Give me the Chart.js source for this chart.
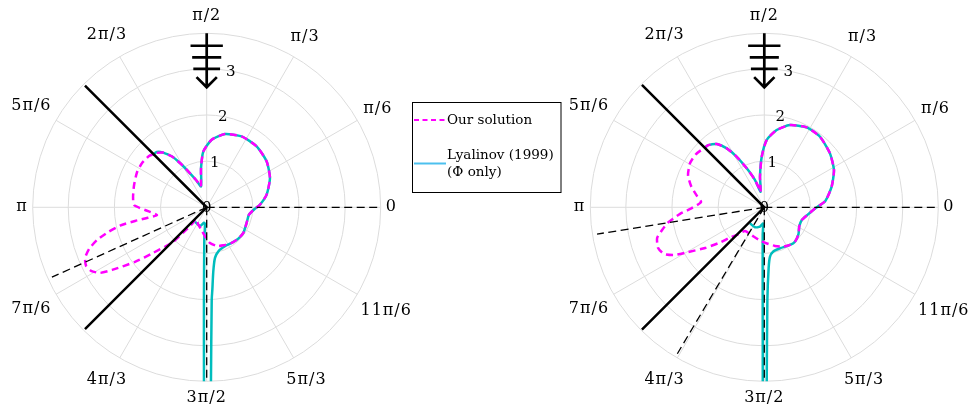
<!DOCTYPE html>
<html>
<head>
<meta charset="utf-8">
<script src="https://cdn.jsdelivr.net/npm/chart.js@4.4.1/dist/chart.umd.min.js"></script>
<style>
    html, body { margin: 0; padding: 0; background: #fff; }
    #wrap { position: relative; width: 974px; height: 413px; background: #fff; }
    #wrap canvas { position: absolute; left: 0; top: 0; }
</style>
</head>
<body>
<div id="wrap">
    <canvas id="left-chart" width="974" height="413"></canvas>
    <canvas id="right-chart" width="974" height="413"></canvas>
</div>
<script>
// Radial axis
const RMAX = 3.77;
const ringValues = [1, 2, 3];
const tickValues = [0, 1, 2, 3];
const tickLabels = ['0', '1', '2', '3'];
const angleDegs = [0, 30, 60, 90, 120, 150, 180, 210, 240, 270, 300, 330];
const angleLabels = ['0', 'π/6', 'π/3', 'π/2', '2π/3', '5π/6', 'π', '7π/6', '4π/3', '3π/2', '5π/3', '11π/6'];

// Left panel: our solution (theta in degrees, r)
const leftOursTheta = [105.2, 98.2, 93.4, 85.8, 76.0, 63.8, 50.7, 37.5, 24.8, 11.9, 2.8, 358.4, 350.1, 338.6,
    325.0, 315.3, 305.0, 293.6, 284.9, 275.2, 268.7, 258.8, 242.5, 227.5, 228.6, 227.9, 225.8, 220.4, 217.3,
    213.5, 211.6, 208.8, 205.9, 202.6, 199.5, 196.6, 194.1, 191.9, 190.8, 190.3, 188.8, 182.5, 178.2, 172.0,
    162.9, 153.1, 145.6, 138.4, 133.0, 128.6, 124.3, 121.1, 117.3, 111.4, 105.2];
const leftOursR = [0.47, 0.86, 1.213, 1.468, 1.635, 1.712, 1.707, 1.636, 1.51, 1.327, 1.155, 1.046, 0.93, 0.929,
    0.969, 0.964, 0.943, 0.898, 0.867, 0.776, 0.665, 0.523, 0.407, 0.343, 0.481, 0.604, 1.047, 1.526, 1.952,
    2.458, 2.713, 2.859, 2.905, 2.854, 2.703, 2.478, 2.202, 1.918, 1.58, 1.357, 1.089, 1.337, 1.575, 1.611,
    1.646, 1.691, 1.697, 1.671, 1.608, 1.517, 1.332, 1.12, 0.884, 0.635, 0.47];

// Left panel: Lyalinov (1999)
const leftLyaTheta = [136.3, 132.1, 128.6, 124.3, 121.1, 117.3, 111.4, 105.2, 98.2, 93.4, 85.8, 76.0, 63.8,
    50.7, 37.5, 24.8, 11.9, 2.8, 358.4, 350.1, 338.6, 325.0, 315.3, 305.0, 295.1, 285.8, 279.3, 275.9, 273.9,
    273.1, 271.4, 271.2, 269.3, 269.1, 268.3, 265.8, 264.2, 260.1, 250.3, 231.0];
const leftLyaR = [1.629, 1.614, 1.517, 1.332, 1.12, 0.884, 0.635, 0.47, 0.86, 1.213, 1.468, 1.635, 1.712,
    1.707, 1.636, 1.51, 1.327, 1.155, 1.046, 0.93, 0.929, 0.969, 0.964, 0.943, 0.932, 0.976, 1.112, 1.393, 1.794,
    2.009, 3.776, 4.5, 4.5, 3.775, 2.007, 0.71, 0.363, 0.338, 0.43, 0.402];

// Left panel: wedge faces and dashed rays
const leftSolidTheta = [135, 225];
const leftSolidR = [3.73, 3.73];
const leftDashTheta = [0, 204.3, 270];
const leftDashR = [3.77, 3.68, 3.77];

// Right panel: our solution
const rightOursTheta = [103.0, 98.0, 92.9, 88.0, 80.9, 72.7, 62.1, 51.7, 39.4, 28.1, 17.0, 6.0, 358.6, 350.0,
    341.0, 331.5, 321.5, 311.7, 304.3, 295.7, 285.5, 274.2, 262.6, 246.4, 230.8, 225.4, 221.4, 218.5, 214.5,
    210.4, 208.1, 205.0, 201.0, 196.0, 192.5, 189.0, 184.5, 180.5, 175.2, 170.5, 163.8, 157.1, 149.2, 142.0,
    134.7, 132.0, 126.9, 122.5, 118.6, 114.3, 108.8, 103.0];
const rightOursR = [0.347, 0.669, 1.097, 1.458, 1.695, 1.866, 1.96, 1.947, 1.841, 1.711, 1.526, 1.33, 1.1, 0.95,
    0.857, 0.862, 0.945, 0.998, 0.988, 0.947, 0.869, 0.786, 0.725, 0.666, 0.662, 0.842, 0.989, 1.225, 1.557,
    1.914, 2.191, 2.395, 2.464, 2.416, 2.268, 2.11, 1.831, 1.565, 1.375, 1.477, 1.652, 1.794, 1.872, 1.875,
    1.826, 1.813, 1.714, 1.514, 1.247, 0.926, 0.624, 0.347];

// Right panel: Lyalinov (1999)
const rightLyaTheta = [134.7, 132.0, 126.9, 122.5, 118.6, 114.3, 108.8, 103.0, 98.0, 92.9, 88.0, 80.9, 72.7,
    62.1, 51.7, 39.4, 28.1, 17.0, 6.0, 358.6, 350.0, 341.0, 331.5, 321.5, 311.7, 304.3, 291.0, 281.5, 276.6,
    274.1, 271.9, 270.8, 270.66, 269.55, 269.5, 269.0, 266.7, 265.4, 257.5, 245.1, 228.1];
const rightLyaR = [1.826, 1.813, 1.714, 1.514, 1.247, 0.926, 0.624, 0.347, 0.669, 1.097, 1.458, 1.695, 1.866,
    1.96, 1.947, 1.841, 1.711, 1.526, 1.33, 1.1, 0.95, 0.857, 0.862, 0.945, 0.998, 0.988, 0.95, 0.976, 1.076,
    1.317, 2.007, 3.775, 4.5, 4.5, 3.775, 2.006, 0.601, 0.352, 0.43, 0.477, 0.465];

const rightSolidTheta = [135, 225];
const rightSolidR = [3.75, 3.75];
const rightDashTheta = [0, 189.1, 239.3, 270];
const rightDashR = [3.77, 3.67, 3.69, 3.77];

const MAGENTA = '#ff00ff';
const TEAL = '#00bdbd';
const LEGEND_BLUE = '#4cc0ee';
const GRID = '#dcdcdc';
const DEG = Math.PI / 180;

function polarPoints(thetas, radii) {
    return thetas.map((t, i) => ({ x: radii[i] * Math.cos(t * DEG), y: radii[i] * Math.sin(t * DEG) }));
}

function buildDatasets(p) {
    const sets = [];
    // wedge faces (solid black, through the origin)
    sets.push({
        data: [polarPoints([p.solidTheta[0]], [p.solidR[0]])[0], { x: 0, y: 0 }, polarPoints([p.solidTheta[1]], [p.solidR[1]])[0]],
        borderColor: '#000', borderWidth: 2.5, tension: 0
    });
    p.dashTheta.forEach((t, i) => {
        sets.push({
            data: [{ x: 0, y: 0 }, polarPoints([t], [p.dashR[i]])[0]],
            borderColor: '#000', borderWidth: 1.3, borderDash: [8, 4.5], tension: 0
        });
    });
    sets.push({
        label: 'Our solution',
        data: polarPoints(p.oursTheta, p.oursR),
        borderColor: MAGENTA, borderWidth: 2.5, borderDash: [7, 4.5], tension: 0.2
    });
    sets.push({
        label: 'Lyalinov (1999)',
        data: polarPoints(p.lyaTheta, p.lyaR),
        borderColor: TEAL, borderWidth: 2.5, tension: 0.2
    });
    sets.forEach(s => {
        s.showLine = true;
        s.pointRadius = 0;
        s.fill = false;
    });
    return sets;
}

// polar grid, labels and incident-wave arrow, placed with the chart's own x/y scales
const polarGrid = {
    id: 'polarGrid',
    beforeDatasetsDraw(chart) {
        const ctx = chart.ctx;
        const xs = chart.scales.x;
        const ys = chart.scales.y;
        const cx = xs.getPixelForValue(0);
        const cy = ys.getPixelForValue(0);
        const unit = xs.getPixelForValue(1) - cx;
        const at = (deg, r) => [cx + r * unit * Math.cos(deg * DEG), cy - r * unit * Math.sin(deg * DEG)];

        ctx.save();
        ctx.strokeStyle = GRID;
        ctx.lineWidth = 1;
        ringValues.concat([RMAX]).forEach(r => {
            ctx.beginPath();
            ctx.arc(cx, cy, r * unit, 0, 2 * Math.PI);
            ctx.stroke();
        });
        angleDegs.forEach(deg => {
            const [x, y] = at(deg, RMAX);
            ctx.beginPath();
            ctx.moveTo(cx, cy);
            ctx.lineTo(x, y);
            ctx.stroke();
        });

        // angle labels
        ctx.fillStyle = '#000';
        ctx.font = '16px "DejaVu Serif"';
        ctx.letterSpacing = '1px';
        ctx.textAlign = 'center';
        ctx.textBaseline = 'middle';
        angleDegs.forEach((deg, i) => {
            const w = ctx.measureText(angleLabels[i]).width;
            const c = Math.abs(Math.cos(deg * DEG));
            const s = Math.abs(Math.sin(deg * DEG));
            const dist = RMAX * unit + 5 + (w / 2) * c + 12 * s;
            ctx.fillText(angleLabels[i], cx + dist * Math.cos(deg * DEG), cy - dist * Math.sin(deg * DEG));
        });

        // radial tick labels along 80 degrees
        ctx.letterSpacing = '0px';
        ctx.font = '15px "DejaVu Serif"';
        tickValues.forEach((v, i) => {
            const [x, y] = at(80, v);
            ctx.fillText(tickLabels[i], x, y + 1);
        });

        // incident wave arrow
        ctx.strokeStyle = '#000';
        ctx.lineWidth = 2.7;
        const top = at(90, RMAX);
        const tip = at(90, 2.6);
        ctx.beginPath();
        ctx.moveTo(top[0], top[1]);
        ctx.lineTo(tip[0], tip[1]);
        [[3.5, 0.35], [3.25, 0.315], [3.0, 0.29]].forEach(([r, hw]) => {
            const [x, y] = at(90, r);
            ctx.moveTo(x - hw * unit, y);
            ctx.lineTo(x + hw * unit, y);
        });
        ctx.moveTo(tip[0] - 0.22 * unit, tip[1] - 0.22 * unit);
        ctx.lineTo(tip[0], tip[1]);
        ctx.lineTo(tip[0] + 0.22 * unit, tip[1] - 0.22 * unit);
        ctx.stroke();
        ctx.restore();
    }
};

const legendBox = {
    id: 'legendBox',
    afterDraw(chart) {
        const ctx = chart.ctx;
        ctx.save();
        ctx.strokeStyle = '#000';
        ctx.lineWidth = 1;
        ctx.strokeRect(412.5, 102.5, 148.5, 90);

        ctx.lineWidth = 2;
        ctx.strokeStyle = MAGENTA;
        ctx.setLineDash([5, 3.5]);
        ctx.beginPath();
        ctx.moveTo(414, 120);
        ctx.lineTo(446, 120);
        ctx.stroke();

        ctx.setLineDash([]);
        ctx.strokeStyle = LEGEND_BLUE;
        ctx.beginPath();
        ctx.moveTo(414, 163.5);
        ctx.lineTo(446, 163.5);
        ctx.stroke();

        ctx.fillStyle = '#000';
        ctx.font = '13.5px "DejaVu Serif"';
        ctx.textAlign = 'left';
        ctx.textBaseline = 'middle';
        ctx.fillText('Our solution', 447, 120);
        ctx.fillText('Lyalinov (1999)', 447, 155);
        ctx.fillText('(Φ only)', 447, 172.5);
        ctx.restore();
    }
};

function makeChart(canvasId, panel, extraPlugins) {
    return new Chart(document.getElementById(canvasId), {
        type: 'scatter',
        data: { datasets: buildDatasets(panel) },
        options: {
            responsive: false,
            animation: false,
            events: [],
            layout: { padding: panel.padding },
            scales: {
                x: { type: 'linear', min: -RMAX, max: RMAX, display: false },
                y: { type: 'linear', min: -RMAX, max: RMAX, display: false }
            },
            plugins: {
                legend: { display: false },
                tooltip: { enabled: false }
            }
        },
        plugins: [polarGrid].concat(extraPlugins)
    });
}

const R_PX = 174;
function paddingFor(cx, cy) {
    return { left: cx - R_PX, right: 974 - (cx + R_PX), top: cy - R_PX, bottom: 413 - (cy + R_PX) };
}

makeChart('left-chart', {
    oursTheta: leftOursTheta, oursR: leftOursR,
    lyaTheta: leftLyaTheta, lyaR: leftLyaR,
    solidTheta: leftSolidTheta, solidR: leftSolidR,
    dashTheta: leftDashTheta, dashR: leftDashR,
    padding: paddingFor(206.7, 207.3)
}, [legendBox]);

makeChart('right-chart', {
    oursTheta: rightOursTheta, oursR: rightOursR,
    lyaTheta: rightLyaTheta, lyaR: rightLyaR,
    solidTheta: rightSolidTheta, solidR: rightSolidR,
    dashTheta: rightDashTheta, dashR: rightDashR,
    padding: paddingFor(764.3, 207.3)
}, []);
</script>
</body>
</html>
